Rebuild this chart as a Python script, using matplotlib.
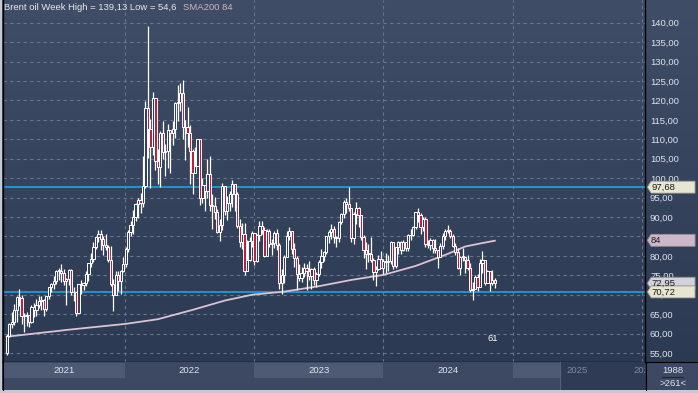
import numpy as np
import matplotlib
matplotlib.use('Agg')
import matplotlib.pyplot as plt
import matplotlib.transforms as mtransforms
from matplotlib.colors import LinearSegmentedColormap
from matplotlib.patches import Polygon

# weekly Brent candles, week 0 = week of 1 Feb 2021
first_open = 55.0
closes = [
    59.3, 62.4, 62.9, 66.1, 69.4, 69.2, 64.5, 64.6, 64.9, 63.0,
    66.8, 66.1, 67.3, 68.3, 68.7, 66.4, 69.6, 71.9, 72.7, 73.5,
    76.2, 76.2, 75.6, 73.6, 74.1, 76.3, 70.7, 70.6, 65.2, 72.7,
    72.6, 72.9, 75.3, 78.1, 79.3, 82.4, 84.9, 85.5, 84.4, 82.7,
    82.2, 78.9, 72.7, 69.9, 75.2, 73.5, 76.1, 77.8,
    81.8, 86.1, 87.9, 90.0, 93.3, 94.4, 93.5, 97.9, 118.1, 112.7,
    107.9, 120.7, 104.4, 102.8, 111.7, 106.7, 107.1, 112.4, 111.6, 112.6,
    119.4, 119.7, 122.0, 113.1, 113.1, 111.6, 107.0, 101.2, 103.2, 110.0,
    94.9, 98.2, 96.7, 101.0, 93.0, 92.8, 91.4, 86.2, 88.0, 97.9,
    91.6, 93.5, 95.8, 98.6, 96.0, 87.6, 83.6, 85.6, 76.1, 79.0,
    83.9, 85.9,
    78.6, 85.3, 87.6, 86.7, 79.9, 86.4, 83.0, 83.2, 85.8, 82.8,
    73.0, 75.0, 79.8, 85.1, 86.3, 81.7, 79.5, 75.3, 74.2, 75.6,
    77.0, 76.1, 74.8, 76.6, 73.9, 75.4, 78.5, 79.9, 81.1, 85.0,
    86.2, 86.8, 84.8, 84.5, 88.6, 90.7, 93.9, 93.3, 92.2, 84.6,
    90.9, 92.2, 90.5, 84.9, 81.4, 80.6, 80.6, 78.9, 75.8, 76.6,
    79.1, 77.0,
    78.8, 78.3, 78.6, 83.6, 77.3, 82.2, 83.5, 81.6, 83.6, 82.1,
    85.3, 85.4, 87.5, 91.2, 90.5, 87.3, 89.5, 83.0, 82.8, 84.0,
    82.1, 81.6, 79.6, 82.6, 85.2, 86.4, 86.5, 85.0, 82.6, 81.1,
    76.8, 79.7, 79.7, 79.0, 76.9, 71.1, 71.6, 74.5, 72.0, 78.1,
    79.0, 73.1, 76.1, 73.1, 73.9, 72.95,
]
highs = [
    59.8, 62.8, 65.5, 67.7, 69.6, 71.4, 69.9, 65.2, 65.6, 64.9,
    67.4, 67.9, 69.0, 69.8, 69.6, 69.0, 69.7, 71.9, 73.0, 74.9,
    76.4, 76.9, 77.8, 76.6, 74.4, 76.5, 76.6, 72.0, 70.8, 72.8,
    73.7, 73.4, 76.0, 78.2, 80.8, 83.5, 85.1, 86.7, 86.7, 85.0,
    85.5, 82.9, 82.5, 74.1, 76.2, 76.0, 76.3, 79.8,
    82.2, 86.7, 89.1, 91.7, 93.7, 95.0, 96.2, 105.8, 119.8, 139.13,
    115.1, 122.2, 114.8, 107.5, 112.2, 114.8, 108.9, 114.0, 112.5, 114.6,
    119.7, 124.0, 124.4, 125.2, 115.0, 118.2, 113.6, 107.4, 108.0, 110.1,
    104.6, 100.0, 98.0, 105.0, 105.6, 95.8, 95.1, 92.0, 89.5, 98.8,
    96.1, 95.4, 96.6, 99.6, 98.6, 96.4, 89.6, 88.5, 88.4, 84.1,
    84.9, 86.5,
    86.0, 85.5, 89.1, 88.9, 87.5, 86.9, 86.9, 84.4, 86.4, 86.8,
    83.3, 76.6, 80.1, 86.4, 87.5, 86.4, 83.4, 80.0, 77.9, 77.1,
    78.2, 78.0, 78.7, 77.0, 77.2, 75.9, 78.9, 81.8, 81.3, 85.1,
    86.6, 88.1, 87.6, 85.2, 89.1, 91.1, 94.3, 95.0, 97.7, 92.3,
    91.2, 93.8, 92.5, 89.3, 85.3, 83.5, 83.1, 84.8, 79.4, 77.3,
    80.3, 81.3,
    79.2, 80.8, 80.1, 83.9, 83.4, 82.2, 83.7, 83.9, 84.0, 83.6,
    85.7, 87.0, 87.6, 91.4, 92.2, 91.1, 89.9, 90.0, 84.0, 84.5,
    84.3, 84.3, 81.6, 83.4, 85.9, 87.0, 88.0, 86.9, 85.5, 83.2,
    82.0, 79.9, 81.9, 79.8, 80.3, 78.2, 73.2, 75.1, 75.4, 79.3,
    81.2, 77.6, 76.4, 75.4, 76.3, 74.3,
]
lows = [
    54.6, 59.0, 61.5, 62.3, 62.9, 67.2, 62.5, 60.3, 61.9, 61.6,
    62.8, 64.3, 64.6, 66.7, 66.0, 64.6, 65.8, 68.9, 70.6, 71.6,
    72.8, 73.8, 73.2, 72.6, 67.4, 72.5, 69.9, 68.3, 64.6, 65.5,
    70.2, 71.1, 72.3, 73.5, 77.2, 78.5, 81.7, 83.5, 81.6, 80.1,
    81.5, 78.4, 72.2, 65.7, 70.8, 71.0, 70.2, 75.9,
    77.1, 81.1, 85.1, 85.6, 88.9, 89.8, 91.1, 92.7, 97.4, 105.2,
    97.4, 106.0, 102.2, 98.4, 97.6, 104.9, 100.5, 102.6, 101.3, 108.6,
    110.4, 114.8, 117.4, 110.1, 104.6, 108.0, 98.5, 96.0, 101.2, 103.3,
    93.2, 93.6, 91.5, 94.9, 91.6, 87.0, 89.5, 85.9, 83.7, 86.6,
    90.6, 89.2, 91.6, 92.6, 91.6, 87.1, 82.3, 81.8, 75.2, 76.0,
    78.8, 82.2,
    77.6, 78.4, 83.8, 85.5, 79.6, 80.1, 82.2, 80.1, 82.0, 81.6,
    71.4, 70.1, 72.9, 83.7, 84.2, 80.4, 77.2, 71.3, 73.6, 73.3,
    74.6, 71.1, 73.8, 71.6, 72.5, 71.9, 74.7, 76.9, 78.6, 80.4,
    83.2, 84.4, 83.3, 82.3, 83.6, 88.1, 89.8, 91.1, 91.5, 83.5,
    83.0, 88.2, 87.3, 84.2, 79.4, 76.6, 78.4, 78.3, 73.8, 72.3,
    76.4, 76.9,
    75.3, 75.6, 76.2, 77.9, 76.7, 76.8, 80.6, 80.6, 81.2, 81.2,
    81.3, 84.1, 85.0, 87.0, 88.6, 85.7, 86.3, 82.4, 82.0, 81.4,
    80.7, 80.8, 76.8, 79.6, 81.8, 84.1, 85.8, 84.5, 82.3, 80.1,
    76.5, 75.1, 78.8, 75.6, 76.3, 70.6, 68.7, 71.6, 70.9, 72.2,
    75.6, 72.6, 73.0, 71.0, 72.6, 71.8,
]

# 200 week moving average, read at some weeks
sma_weeks = [0, 25, 48, 61, 75, 88, 99, 112, 126, 139, 152, 165, 178, 185, 192, 197]
sma_vals = [59.2, 61.0, 62.5, 63.7, 66.1, 68.5, 70.0, 70.8, 72.2, 73.8, 75.1, 77.4, 80.5, 82.4, 83.3, 83.9]

year_labels = ['2021', '2022', '2023', '2024', '2025', '2026']
year_starts = [47.71, 99.86, 152.0, 204.29, 256.43]   # week index of 1 January
level_lines = [97.68, 70.72]
last_price = 72.95
sma_last = 84
y_ticks = list(range(55, 145, 5))
count_label = '61'

xmin, xmax = -1.5, 257.6
ymin, ymax = 52.69, 145.84

weeks = np.arange(len(closes))
opens = np.array([first_open] + closes[:-1])
closes_a = np.array(closes)

fig = plt.figure(figsize=(6.98, 3.93), dpi=100)
fig.patch.set_facecolor('#c4c9d2')

# background gradient
bg = fig.add_axes([2/698, 3/393, 696/698, 390/393])
cmap = LinearSegmentedColormap.from_list('bg', ['#404d66', '#2b3852'])
bg.imshow(np.linspace(0, 1, 256).reshape(-1, 1), cmap=cmap, aspect='auto', extent=[0, 1, 0, 1])
bg.set_axis_off()

ax = fig.add_axes([3/698, 31/393, 642/698, 362/393])
ax.set_facecolor('none')
ax.set_xlim(xmin, xmax)
ax.set_ylim(ymin, ymax)

ax.set_yticks(y_ticks)
ax.set_yticklabels([f"{v},00" for v in y_ticks])
ax.yaxis.tick_right()
ax.tick_params(axis='y', length=0, pad=3.6, labelcolor='#dde3ee', labelsize=6.8)
ax.set_xticks(year_starts)
ax.tick_params(axis='x', length=0, labelbottom=False)
ax.grid(True, linestyle=(0, (3, 3)), color='#66758f', lw=0.8)
ax.set_axisbelow(True)
for s in ['left', 'right', 'bottom']:
    ax.spines[s].set_color('black')
    ax.spines[s].set_linewidth(1.0)
ax.spines['top'].set_visible(False)
for t in ax.get_yticklabels():
    t.set_fontfamily('Liberation Sans')

for v in level_lines:
    ax.axhline(v, color='#1f9bd7', lw=1.3, zorder=2)

ax.plot(sma_weeks, sma_vals, color='#dcc2d2', lw=1.3, zorder=3)

# candles
ax.vlines(weeks, lows, highs, color='white', lw=0.9, zorder=4)
up = closes_a >= opens
body_lo = np.minimum(opens, closes_a)
body_h = np.maximum(np.abs(closes_a - opens), 0.15)
ax.bar(weeks[up], body_h[up], bottom=body_lo[up], width=0.9, facecolor='#34415c',
       edgecolor='white', lw=0.7, zorder=5)
ax.bar(weeks[~up], body_h[~up], bottom=body_lo[~up], width=0.9, facecolor='#b8223f',
       edgecolor='white', lw=0.7, zorder=5)

ax.text(0.002, 0.978, 'Brent oil Week High = 139,13 Low = 54,6', transform=ax.transAxes,
        color='#e6e8ec', fontsize=6.8, va='center', family='Liberation Sans')
ax.text(0.28, 0.978, f'SMA200 {sma_last}', transform=ax.transAxes,
        color='#d4b2c6', fontsize=6.8, va='center', family='Liberation Sans')

ax.text(weeks[-1] - 1, 0.066, count_label, transform=mtransforms.blended_transform_factory(ax.transData, ax.transAxes),
        color='white', fontsize=6.8, ha='center', va='center', family='Liberation Sans')

# price tags on the right axis
trans = mtransforms.blended_transform_factory(ax.transAxes, ax.transData)


def tag(v, txt, fc):
    h = 1.55
    pts = [(1.0035, v), (1.0095, v + h), (1.078, v + h), (1.078, v - h), (1.0095, v - h)]
    ax.add_patch(Polygon(pts, closed=True, transform=trans, facecolor=fc, edgecolor='#8c8c84',
                         lw=0.6, clip_on=False, zorder=10))
    ax.text(1.0095, v, txt, transform=trans, color='#1c1c1c', fontsize=6.8, va='center',
            ha='left', clip_on=False, zorder=11, family='Liberation Sans')


tag(level_lines[0], f"{level_lines[0]:.2f}".replace('.', ','), '#e6e6d4')
tag(sma_last, str(sma_last), '#ccb8c8')
tag(last_price, f"{last_price:.2f}".replace('.', ','), '#d2d2de')
tag(level_lines[1], f"{level_lines[1]:.2f}".replace('.', ','), '#e6e6d0')

# bottom time bar
bax = fig.add_axes([3/698, 3/393, 642/698, 28/393])
bax.set_facecolor('#3d4963')
bax.set_xlim(xmin, xmax)
bax.set_ylim(0, 1)
bax.set_xticks([])
bax.set_yticks([])
for s in ['top', 'right', 'bottom']:
    bax.spines[s].set_visible(False)
bax.spines['left'].set_color('black')

edges = [xmin] + year_starts + [year_starts[-1] + 52.18]
for i in range(len(year_labels)):
    if i % 2 == 0:
        bax.axvspan(edges[i], edges[i + 1], ymin=0.43, ymax=0.964, color='#4e5a73', lw=0)
future = 223.2
bax.axvspan(future, xmax, color='#2f3b55', lw=0)
bax.axvline(future, color='#56617a', lw=0.8)
for i, lab in enumerate(year_labels):
    cx = (edges[i] + edges[i + 1]) / 2
    col = '#dfe6f0'
    if i >= 4:
        col = '#7d889b'
    if i == 5:
        cx = edges[i] + 1
    bax.text(cx, 0.68, lab, color=col, fontsize=6.8, ha='center', va='center',
             clip_on=True, family='Liberation Sans')

# bottom right cell
cax = fig.add_axes([646/698, 3/393, 52/698, 28/393])
cax.set_facecolor('#3d4963')
cax.set_xlim(0, 1)
cax.set_ylim(0, 1)
cax.set_xticks([])
cax.set_yticks([])
for s in ['right', 'bottom']:
    cax.spines[s].set_visible(False)
cax.spines['left'].set_color('black')
cax.spines['top'].set_color('black')
cax.text(0.52, 0.71, '1988', color='#dfe6f0', fontsize=6.8, ha='center', va='center', family='Liberation Sans')
cax.plot([0.3, 0.72], [0.47, 0.47], color='#1c2538', lw=0.8)
cax.text(0.52, 0.25, '>261<', color='#dfe6f0', fontsize=6.8, ha='center', va='center', family='Liberation Sans')

plt.savefig('out.png', dpi=100)
